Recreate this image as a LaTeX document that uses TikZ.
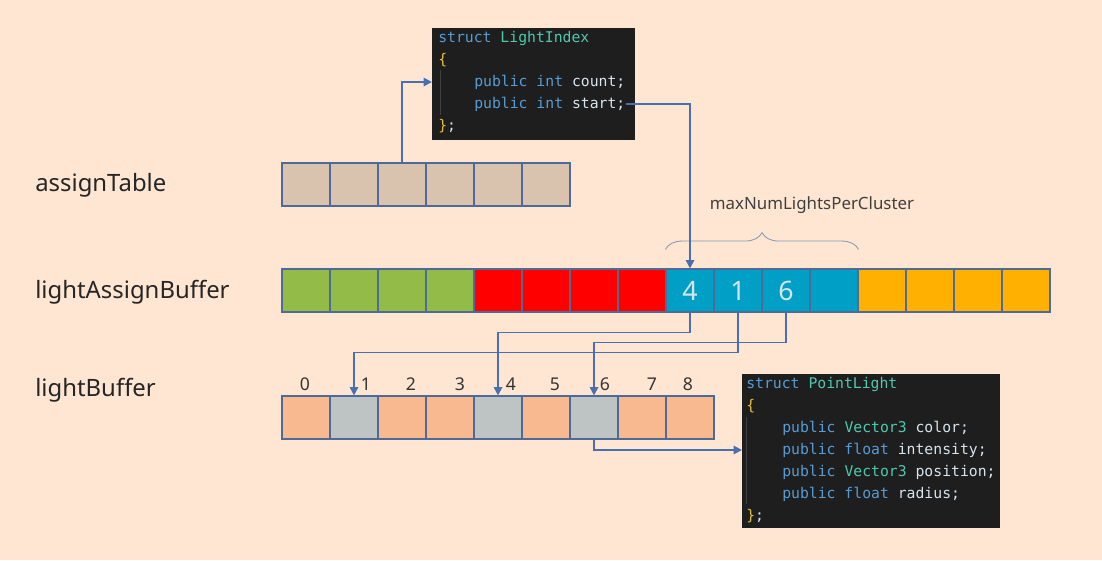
\documentclass[tikz,border=0pt]{standalone}
\usepackage{fontspec}
\setmainfont{Noto Sans}
\newfontfamily\codefont{DejaVu Sans Mono}
\usetikzlibrary{arrows.meta,decorations.pathreplacing}

\definecolor{bgpeach}{HTML}{FEE6D2}
\definecolor{cellline}{HTML}{4E6A97}
\definecolor{linkblue}{HTML}{4A6FAE}
\definecolor{tblfill}{HTML}{D9C3AF}
\definecolor{grnfill}{HTML}{92BC47}
\definecolor{redfill}{HTML}{FF0000}
\definecolor{cynfill}{HTML}{00A0C6}
\definecolor{ambfill}{HTML}{FFB000}
\definecolor{salfill}{HTML}{F8B990}
\definecolor{gryfill}{HTML}{BEC3C3}
\definecolor{codebg}{HTML}{1E1E1E}
\definecolor{kwcol}{HTML}{569CD6}
\definecolor{typecol}{HTML}{4EC9B0}
\definecolor{idcol}{HTML}{D6E4EE}
\definecolor{brkcol}{HTML}{E2BF3A}
\definecolor{guidecol}{HTML}{404040}

\begin{document}
\begin{tikzpicture}[
  lbl/.style={font=\fontsize{17}{20}\selectfont, text=black!85, anchor=west,
    inner sep=0pt},
  cell/.style={rectangle, draw=cellline, line width=0.8pt, minimum width=1.2cm,
    minimum height=1.075cm, inner sep=0pt},
  tbl/.style={cell, fill=tblfill},
  grn/.style={cell, fill=grnfill},
  rd/.style={cell, fill=redfill},
  cyn/.style={cell, fill=cynfill, text=idcol, font=\fontsize{19}{22}\selectfont},
  amb/.style={cell, fill=ambfill},
  sal/.style={cell, fill=salfill},
  gry/.style={cell, fill=gryfill},
  idxnum/.style={font=\fontsize{12.5}{15}\selectfont, text=black!80},
  codebox/.style={rectangle, fill=codebg, anchor=north west, inner sep=0pt},
  code/.style={anchor=west, inner sep=0pt, text=idcol,
    font=\codefont\fontsize{10.5}{12}\selectfont},
  guide/.style={draw=guidecol, line width=0.6pt},
  link/.style={draw=linkblue, line width=1.3pt,
    -{Triangle[length=6pt,width=6pt]}},
]

% Canvas
\useasboundingbox (0,0) rectangle (27.55,-14);
\fill[bgpeach] (0,0) rectangle (27.55,-14);

% Cell spacing
\def\cw{1.2}
\def\xo{7.65}

% Row labels
\node[lbl] (lblat) at (0.875, -4.625) {assignTable};
\node[lbl] (lbllab) at (0.875, -7.3) {lightAssignBuffer};
\node[lbl] (lbllb) at (0.875, -9.75) {lightBuffer};

% Row 1: assignTable
\def\ya{-4.6125}
\node[tbl] (at0) at (\xo, \ya) {};
\node[tbl] (at1) at (\xo+\cw, \ya) {};
\node[tbl] (at2) at (\xo+2*\cw, \ya) {};
\node[tbl] (at3) at (\xo+3*\cw, \ya) {};
\node[tbl] (at4) at (\xo+4*\cw, \ya) {};
\node[tbl] (at5) at (\xo+5*\cw, \ya) {};

% Row 2: lightAssignBuffer
\def\yb{-7.2625}
\node[grn] (lab0) at (\xo, \yb) {};
\node[grn] (lab1) at (\xo+\cw, \yb) {};
\node[grn] (lab2) at (\xo+2*\cw, \yb) {};
\node[grn] (lab3) at (\xo+3*\cw, \yb) {};
\node[rd] (lab4) at (\xo+4*\cw, \yb) {};
\node[rd] (lab5) at (\xo+5*\cw, \yb) {};
\node[rd] (lab6) at (\xo+6*\cw, \yb) {};
\node[rd] (lab7) at (\xo+7*\cw, \yb) {};
\node[cyn] (lab8) at (\xo+8*\cw, \yb) {4};
\node[cyn] (lab9) at (\xo+9*\cw, \yb) {1};
\node[cyn] (lab10) at (\xo+10*\cw, \yb) {6};
\node[cyn] (lab11) at (\xo+11*\cw, \yb) {};
\node[amb] (lab12) at (\xo+12*\cw, \yb) {};
\node[amb] (lab13) at (\xo+13*\cw, \yb) {};
\node[amb] (lab14) at (\xo+14*\cw, \yb) {};
\node[amb] (lab15) at (\xo+15*\cw, \yb) {};

% Row 3: lightBuffer
\def\yc{-10.4375}
\node[sal] (lb0) at (\xo, \yc) {};
\node[gry] (lb1) at (\xo+\cw, \yc) {};
\node[sal] (lb2) at (\xo+2*\cw, \yc) {};
\node[sal] (lb3) at (\xo+3*\cw, \yc) {};
\node[gry] (lb4) at (\xo+4*\cw, \yc) {};
\node[sal] (lb5) at (\xo+5*\cw, \yc) {};
\node[gry] (lb6) at (\xo+6*\cw, \yc) {};
\node[sal] (lb7) at (\xo+7*\cw, \yc) {};
\node[sal] (lb8) at (\xo+8*\cw, \yc) {};

% Indices above lightBuffer
\node[idxnum] (n0) at (7.625, -9.6) {0};
\node[idxnum] (n1) at (9.15, -9.6) {1};
\node[idxnum] (n2) at (10.275, -9.6) {2};
\node[idxnum] (n3) at (11.5, -9.6) {3};
\node[idxnum] (n4) at (12.775, -9.6) {4};
\node[idxnum] (n5) at (13.875, -9.6) {5};
\node[idxnum] (n6) at (15.125, -9.6) {6};
\node[idxnum] (n7) at (16.3, -9.6) {7};
\node[idxnum] (n8) at (17.2, -9.6) {8};

% Brace over one cluster
\draw[draw=cellline!70, line width=0.6pt,
  decorate, decoration={brace, amplitude=0.42cm}]
  ([yshift=0.475cm]lab8.north west) -- ([yshift=0.475cm]lab11.north east);
\node[font=\fontsize{12}{14}\selectfont, text=black!75] (maxlbl)
  at (20.3, -5.125) {maxNumLightsPerCluster};

% struct LightIndex
\node[codebox, minimum width=5.075cm, minimum height=2.8cm] (li) at (10.8, -0.7) {};
\draw[guide] (11.0, -1.75) -- (11.0, -2.875);
\node[code] (li1) at (10.95, -0.95) {\textcolor{kwcol}{struct} \textcolor{typecol}{LightIndex}};
\node[code] (li2) at (10.95, -1.5) {\textcolor{brkcol}{\{}};
\node[code] (li3) at (11.85, -2.05) {\textcolor{kwcol}{public int} count;};
\node[code] (li4) at (11.85, -2.6) {\textcolor{kwcol}{public int} start;};
\node[code] (li5) at (10.95, -3.15) {\textcolor{brkcol}{\}};};

% struct PointLight
\node[codebox, minimum width=6.45cm, minimum height=3.85cm] (pl) at (18.55, -9.35) {};
\draw[guide] (18.67, -10.425) -- (18.67, -12.6);
\node[code] (pl1) at (18.65, -9.6) {\textcolor{kwcol}{struct} \textcolor{typecol}{PointLight}};
\node[code] (pl2) at (18.65, -10.15) {\textcolor{brkcol}{\{}};
\node[code] (pl3) at (19.55, -10.7) {\textcolor{kwcol}{public} \textcolor{typecol}{Vector3} color;};
\node[code] (pl4) at (19.55, -11.25) {\textcolor{kwcol}{public float} intensity;};
\node[code] (pl5) at (19.55, -11.8) {\textcolor{kwcol}{public} \textcolor{typecol}{Vector3} position;};
\node[code] (pl6) at (19.55, -12.35) {\textcolor{kwcol}{public float} radius;};
\node[code] (pl7) at (18.65, -12.9) {\textcolor{brkcol}{\}};};

% Connectors
\draw[link] (at2.north) |- (li.west |- li3.west);
\draw[link] (li4.east) -| (lab8.north);
\draw[link] (lab8.south) -- ++(0,-0.5) -| (lb4.north);
\draw[link] (lab9.south) -- ++(0,-1.0) -| (lb1.north);
\draw[link] (lab10.south) -- ++(0,-0.75) -| (lb6.north);
\draw[link] (lb6.south) |- (pl.west |- pl4.west);

\end{tikzpicture}
\end{document}
